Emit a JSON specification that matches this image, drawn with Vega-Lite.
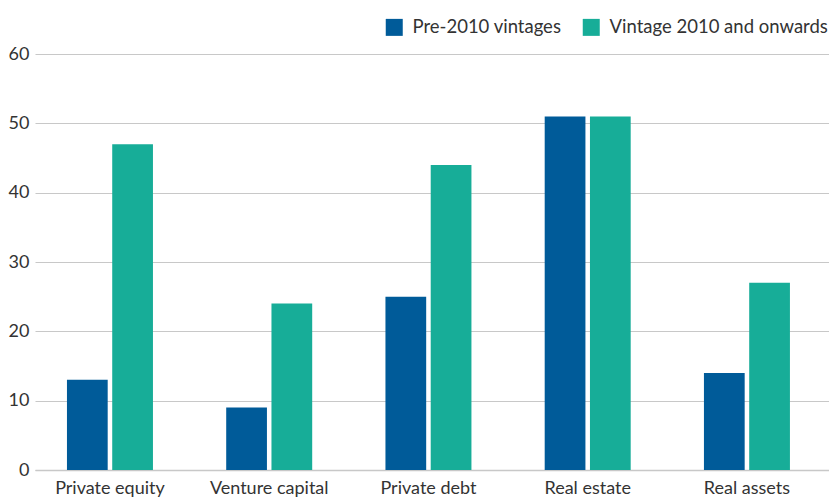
{
  "$schema": "https://vega.github.io/schema/vega-lite/v6.json",
  "autosize": {"type": "none"},
  "width": 794,
  "height": 416,
  "padding": {"left": 35, "top": 54, "right": 0, "bottom": 27},
  "background": "white",
  "config": {
    "view": {"stroke": null},
    "font": "Lato",
    "axis": {"labelFont": "Lato", "labelColor": "#333333"},
    "legend": {"labelFont": "Lato"}
  },
  "data": {
    "values": [
      {"asset": "Private equity", "vintage": "Pre-2010 vintages", "value": 13},
      {"asset": "Private equity", "vintage": "Vintage 2010 and onwards", "value": 47},
      {"asset": "Venture capital", "vintage": "Pre-2010 vintages", "value": 9},
      {"asset": "Venture capital", "vintage": "Vintage 2010 and onwards", "value": 24},
      {"asset": "Private debt", "vintage": "Pre-2010 vintages", "value": 25},
      {"asset": "Private debt", "vintage": "Vintage 2010 and onwards", "value": 44},
      {"asset": "Real estate", "vintage": "Pre-2010 vintages", "value": 51},
      {"asset": "Real estate", "vintage": "Vintage 2010 and onwards", "value": 51},
      {"asset": "Real assets", "vintage": "Pre-2010 vintages", "value": 14},
      {"asset": "Real assets", "vintage": "Vintage 2010 and onwards", "value": 27}
    ]
  },
  "mark": {"type": "bar"},
  "encoding": {
    "x": {
      "field": "asset",
      "type": "nominal",
      "sort": null,
      "scale": {"paddingInner": 0.46, "paddingOuter": 0.223, "align": 0.45},
      "axis": {
        "title": null,
        "labelAngle": 0,
        "labelFontSize": 18,
        "labelPadding": 9,
        "ticks": false,
        "domainColor": "#c8c8c8",
        "domainWidth": 1.5
      }
    },
    "xOffset": {"field": "vintage", "type": "nominal", "scale": {"paddingInner": 0.1}},
    "y": {
      "field": "value",
      "type": "quantitative",
      "scale": {"domain": [0, 60], "nice": false},
      "axis": {
        "title": null,
        "values": [0, 10, 20, 30, 40, 50, 60],
        "labelFontSize": 18,
        "labelPadding": 6,
        "ticks": false,
        "domain": false,
        "gridColor": "#c8c8c8",
        "gridWidth": 1.2
      }
    },
    "color": {
      "field": "vintage",
      "type": "nominal",
      "scale": {"range": ["#005b99", "#17ad98"]},
      "legend": {
        "title": null,
        "orient": "none",
        "direction": "horizontal",
        "legendX": 350,
        "legendY": -36,
        "symbolType": "square",
        "symbolSize": 289,
        "symbolStrokeWidth": 0,
        "labelFontSize": 18.5,
        "labelColor": "#333333",
        "labelLimit": 0,
        "columnPadding": 20,
        "labelOffset": 9
      }
    }
  }
}
